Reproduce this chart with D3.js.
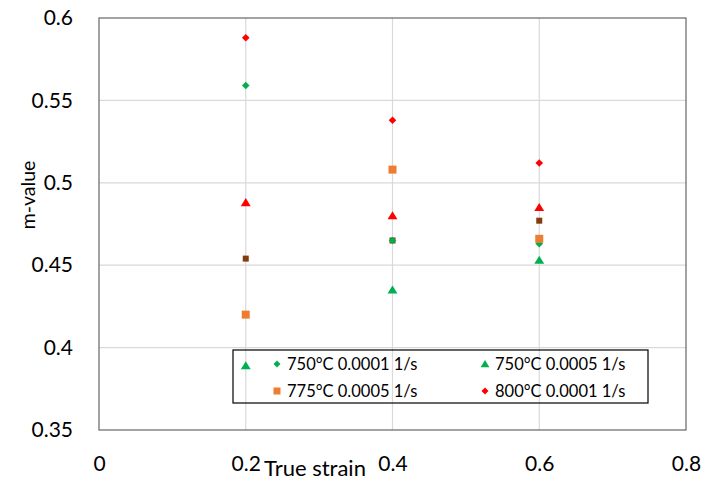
<!DOCTYPE html>
<html>
<head>
<meta charset="utf-8">
<script src="https://cdn.jsdelivr.net/npm/d3@7"></script>
<style>
  body { margin: 0; background: #fff; }
  svg { display: block; font-family: Lato, "Open Sans", sans-serif; }
</style>
</head>
<body>
<div id="container"></div>
<script>
// ---------------------
// DATA
// ---------------------
const strains = [0.2, 0.4, 0.6];

const mBrownSq   = [0.454, 0.465, 0.477];
const mRedTri    = [0.488, 0.480, 0.485];
const m750_0001  = [0.559, 0.465, 0.463];
const m750_0005  = [0.389, 0.435, 0.453];
const m775_0005  = [0.420, 0.508, 0.466];
const m800_0001  = [0.588, 0.538, 0.512];

const xTicks = [0, 0.2, 0.4, 0.6, 0.8];
const yTicks = [0.35, 0.4, 0.45, 0.5, 0.55, 0.6];

const legendLabels = ['750°C 0.0001 1/s', '750°C 0.0005 1/s', '775°C 0.0005 1/s', '800°C 0.0001 1/s'];

// ---------------------
// SETUP
// ---------------------
const width = 703, height = 485;
const margin = { top: 18, right: 17, bottom: 55, left: 99 };
const plotW = width - margin.left - margin.right;
const plotH = height - margin.top - margin.bottom;

const x = d3.scaleLinear().domain([0, 0.8]).range([0, plotW]);
const y = d3.scaleLinear().domain([0.35, 0.6]).range([plotH, 0]);

const svg = d3.select('#container')
              .append('svg')
              .attr('width', width)
              .attr('height', height);

const g = svg.append('g')
             .attr('transform', `translate(${margin.left}, ${margin.top})`);

// marker paths, centred on 0,0
function markerPath (shape, s) {
  if (shape === 'diamond') return `M0,${-s}L${s},0L0,${s}L${-s},0Z`;
  if (shape === 'square') return `M${-s},${-s}H${s}V${s}H${-s}Z`;
  // triangle
  return `M0,${-s}L${s * 1.1},${s * 0.8}L${-s * 1.1},${s * 0.8}Z`;
}

// draw order matters where points overlap
const series = [
  { values: mBrownSq,  shape: 'square',   size: 3,   color: '#843C0C' },
  { values: mRedTri,   shape: 'triangle', size: 4.5, color: '#FF0000' },
  { values: m750_0001, shape: 'diamond',  size: 3.8, color: '#00B050', label: legendLabels[0] },
  { values: m750_0005, shape: 'triangle', size: 4.5, color: '#00B050', label: legendLabels[1] },
  { values: m775_0005, shape: 'square',   size: 4,   color: '#ED7D31', label: legendLabels[2] },
  { values: m800_0001, shape: 'diamond',  size: 3.8, color: '#FF0000', label: legendLabels[3] }
];

// ---------------------
// GRID + AXES
// ---------------------
g.append('g')
 .attr('class', 'grid-y')
 .selectAll('line')
 .data(yTicks.slice(1, -1))
 .enter()
 .append('line')
 .attr('x1', 0)
 .attr('x2', plotW)
 .attr('y1', d => y(d))
 .attr('y2', d => y(d))
 .attr('stroke', '#d9d9d9')
 .attr('stroke-width', 1.2);

g.append('g')
 .attr('class', 'grid-x')
 .selectAll('line')
 .data(xTicks.slice(1, -1))
 .enter()
 .append('line')
 .attr('x1', d => x(d))
 .attr('x2', d => x(d))
 .attr('y1', 0)
 .attr('y2', plotH)
 .attr('stroke', '#d9d9d9')
 .attr('stroke-width', 1.2);

// plot border
g.append('rect')
 .attr('x', 0)
 .attr('y', 0)
 .attr('width', plotW)
 .attr('height', plotH)
 .attr('fill', 'none')
 .attr('stroke', '#666')
 .attr('stroke-width', 1.2);

const axisY = d3.axisLeft(y)
                .tickValues(yTicks)
                .tickFormat(d3.format('~g'))
                .tickSize(0)
                .tickPadding(26);

g.append('g')
 .call(axisY)
 .call(sel => sel.select('.domain').remove())
 .selectAll('text')
 .attr('font-family', 'Lato, sans-serif')
 .attr('font-size', 21)
 .attr('fill', '#000');

const axisX = d3.axisBottom(x)
                .tickValues(xTicks)
                .tickFormat(d3.format('~g'))
                .tickSize(0)
                .tickPadding(26);

g.append('g')
 .attr('transform', `translate(0, ${plotH})`)
 .call(axisX)
 .call(sel => sel.select('.domain').remove())
 .selectAll('text')
 .attr('font-family', 'Lato, sans-serif')
 .attr('font-size', 21)
 .attr('fill', '#000');

// axis titles
svg.append('text')
   .attr('x', 315)
   .attr('y', 476)
   .attr('text-anchor', 'middle')
   .attr('font-size', 22)
   .text('True strain');

svg.append('text')
   .attr('transform', 'translate(27, 195) rotate(-90)')
   .attr('text-anchor', 'middle')
   .attr('dominant-baseline', 'central')
   .attr('font-size', 19.5)
   .text('m-value');

// ---------------------
// POINTS
// ---------------------
series.forEach(s => {
  g.append('g')
   .selectAll('path')
   .data(s.values)
   .enter()
   .append('path')
   .attr('transform', (d, i) => `translate(${x(strains[i])}, ${y(d)})`)
   .attr('d', markerPath(s.shape, s.size))
   .attr('fill', s.color);
});

// ---------------------
// LEGEND
// ---------------------
const legend = svg.append('g')
                  .attr('transform', 'translate(233, 350)');

legend.append('rect')
      .attr('width', 415)
      .attr('height', 53)
      .attr('fill', 'none')
      .attr('stroke', '#000')
      .attr('stroke-width', 1.2);

const legendItems = series.filter(s => s.label);

const item = legend.selectAll('g.item')
                   .data(legendItems)
                   .enter()
                   .append('g')
                   .attr('class', 'item')
                   .attr('transform', (d, i) => `translate(${44 + (i % 2) * 208}, ${14 + Math.floor(i / 2) * 27})`);

item.append('path')
    .attr('d', d => markerPath(d.shape, d.shape === 'triangle' ? 4 : 3.5))
    .attr('fill', d => d.color);

item.append('text')
    .attr('x', 10)
    .attr('dominant-baseline', 'central')
    .attr('font-size', 16.5)
    .text(d => d.label);
</script>
</body>
</html>
